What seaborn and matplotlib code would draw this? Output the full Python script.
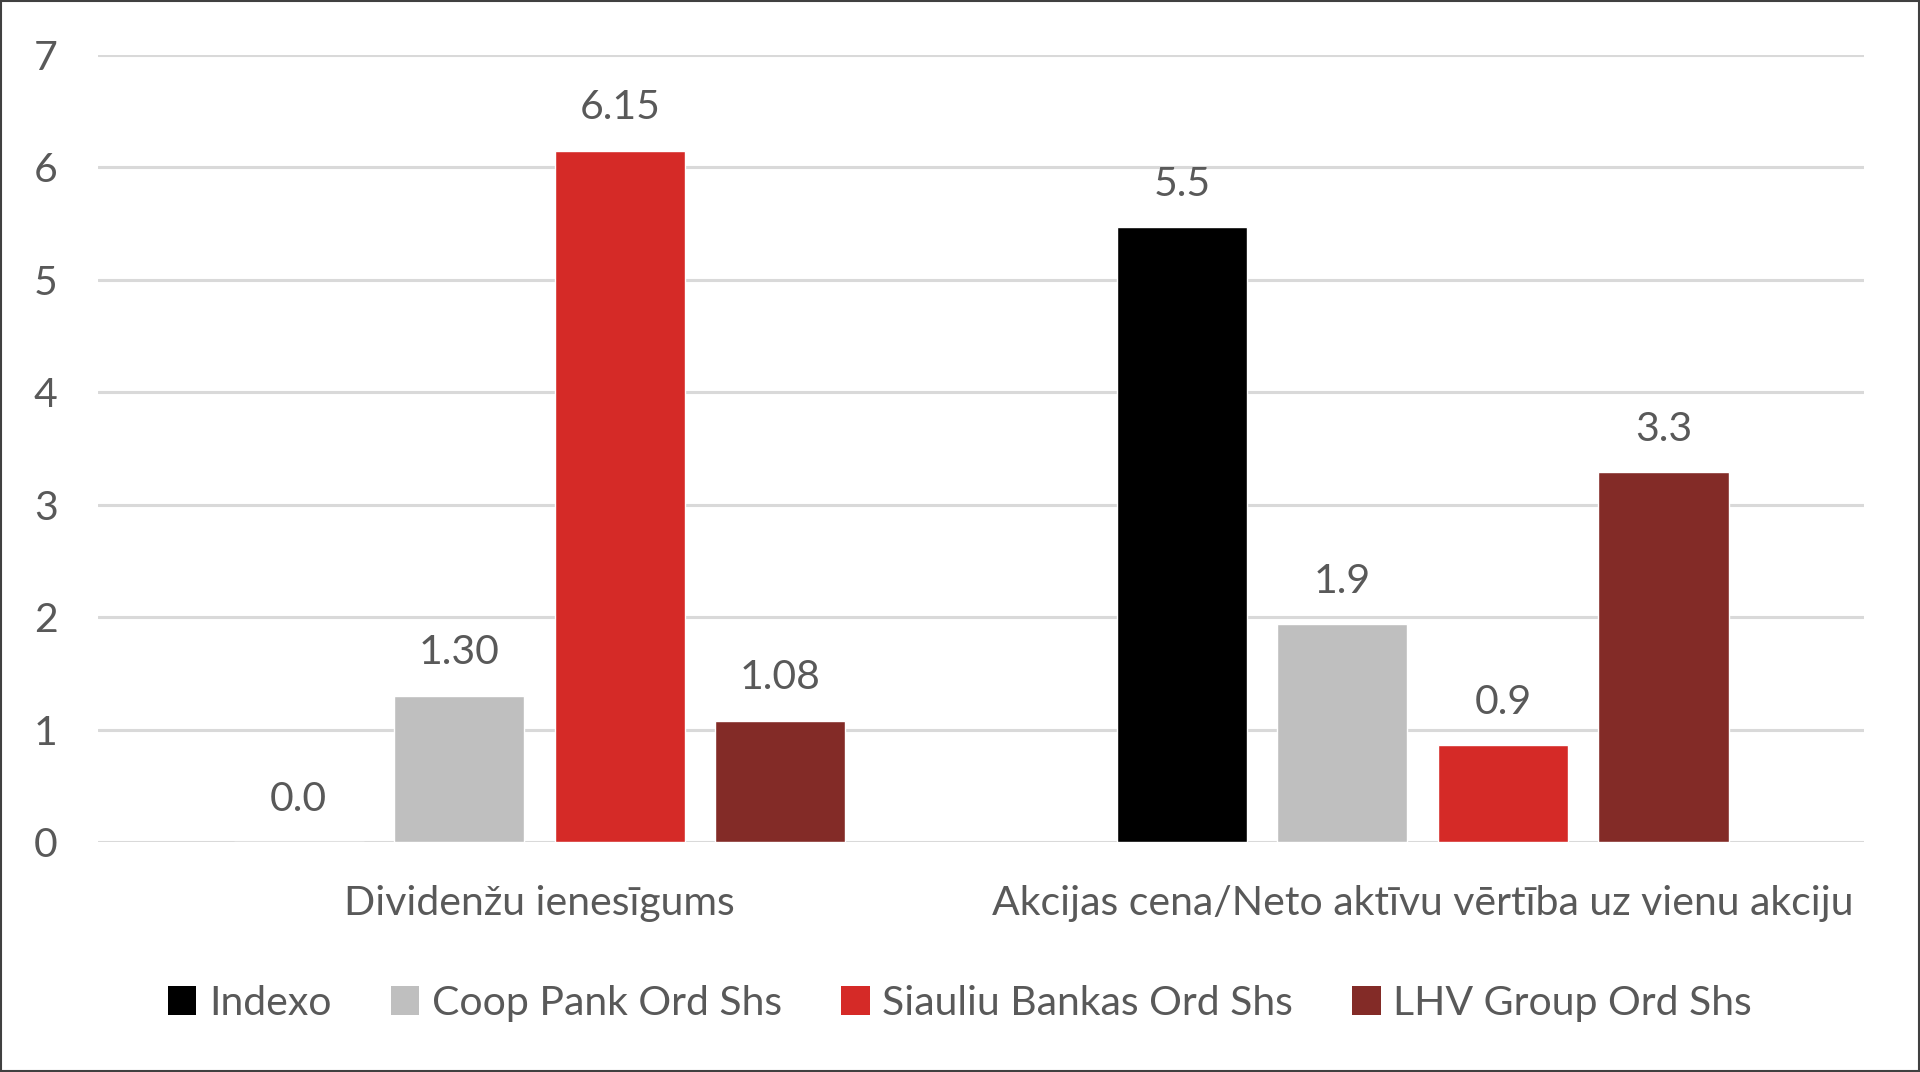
import pandas as pd
import matplotlib
matplotlib.use("Agg")
import matplotlib.pyplot as plt
import seaborn as sns
from matplotlib.patches import Patch, Rectangle

# chart data
categories = ["Dividenžu ienesīgums", "Akcijas cena/Neto aktīvu vērtība uz vienu akciju"]
companies = ["Indexo", "Coop Pank Ord Shs", "Siauliu Bankas Ord Shs", "LHV Group Ord Shs"]
indexo = [0.0, 5.47]
coop_pank = [1.30, 1.94]
siauliu = [6.15, 0.86]
lhv = [1.08, 3.29]
indexo_labels = ["0.0", "5.5"]
coop_labels = ["1.30", "1.9"]
siauliu_labels = ["6.15", "0.9"]
lhv_labels = ["1.08", "3.3"]
yticks = [0, 1, 2, 3, 4, 5, 6, 7]

colors = {"Indexo": "#000000", "Coop Pank Ord Shs": "#BFBFBF",
          "Siauliu Bankas Ord Shs": "#D52A27", "LHV Group Ord Shs": "#832B27"}
text_color = "#595959"
fs = 29.5

rows = []
for comp, vals in zip(companies, [indexo, coop_pank, siauliu, lhv]):
    for cat, v in zip(categories, vals):
        rows.append({"Category": cat, "Company": comp, "Value": v})
df = pd.DataFrame(rows)

sns.set_theme(style="white")
plt.rcParams['font.family'] = ['Lato', 'DejaVu Sans']

fig = plt.figure(figsize=(19.2, 10.72), dpi=100)
ax = fig.add_axes([0.051, 0.2146, 0.92, 0.7341])

sns.barplot(data=df, x="Category", y="Value", hue="Company", order=categories,
            hue_order=companies, palette=colors, width=0.727, gap=0.19,
            saturation=1, legend=False, ax=ax)

# value labels above each bar
all_labels = [indexo_labels, coop_labels, siauliu_labels, lhv_labels]
for cont, labs in zip(ax.containers, all_labels):
    ax.bar_label(cont, labels=labs, padding=17.5, fontsize=fs, color=text_color)

ax.set_ylim(0, 7)
ax.set_yticks(yticks)
ax.set_xlim(-0.5, 1.5)
ax.yaxis.grid(True, color="#D9D9D9", linewidth=2.2)
ax.set_axisbelow(True)
for s in ax.spines.values():
    s.set_visible(False)
ax.set_xlabel("")
ax.set_ylabel("")
ax.tick_params(axis="y", length=0, pad=29, labelsize=fs, labelcolor=text_color)
ax.tick_params(axis="x", length=0, pad=31, labelsize=fs, labelcolor=text_color)

handles = [Patch(facecolor=colors[c], edgecolor="none", label=c) for c in companies]
fig.legend(handles=handles, loc="center", bbox_to_anchor=(0.5, 0.064), ncol=4,
           frameon=False, fontsize=fs, handlelength=0.7, handleheight=0.7,
           handletextpad=0.3, columnspacing=1.45, labelcolor=text_color)

# thin frame around the whole chart
fig.patches.append(Rectangle((0.0005, 0.0008), 0.999, 0.9984, transform=fig.transFigure,
                             fill=False, edgecolor="#404040", linewidth=1.5))

fig.savefig("out.png", dpi=100)
